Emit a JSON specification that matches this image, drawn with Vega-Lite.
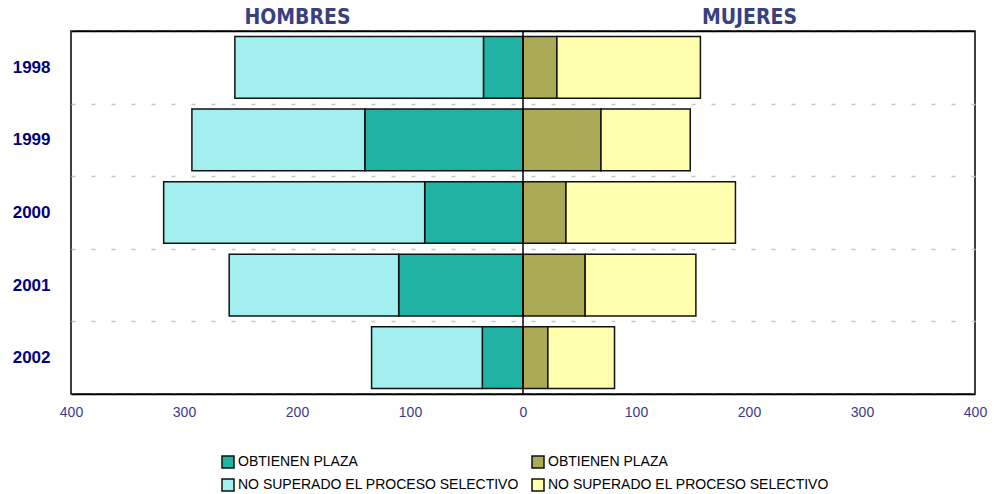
{
  "$schema": "https://vega.github.io/schema/vega-lite/v6.json",
  "width": 904,
  "height": 363,
  "autosize": {"type": "none"},
  "padding": {"left": 71, "top": 31, "right": 19, "bottom": 100},
  "background": "white",
  "config": {
    "view": {"stroke": "black", "strokeWidth": 1.5},
    "font": "Arial, Liberation Sans, sans-serif"
  },
  "layer": [
    {
      "data": {
        "values": [
          {"anio": "1998", "serie": "H_OBT", "orden": 1, "valor": -35},
          {"anio": "1998", "serie": "H_NO", "orden": 2, "valor": -220},
          {"anio": "1998", "serie": "M_OBT", "orden": 1, "valor": 30},
          {"anio": "1998", "serie": "M_NO", "orden": 2, "valor": 127},
          {"anio": "1999", "serie": "H_OBT", "orden": 1, "valor": -140},
          {"anio": "1999", "serie": "H_NO", "orden": 2, "valor": -153},
          {"anio": "1999", "serie": "M_OBT", "orden": 1, "valor": 69},
          {"anio": "1999", "serie": "M_NO", "orden": 2, "valor": 79},
          {"anio": "2000", "serie": "H_OBT", "orden": 1, "valor": -87},
          {"anio": "2000", "serie": "H_NO", "orden": 2, "valor": -231},
          {"anio": "2000", "serie": "M_OBT", "orden": 1, "valor": 38},
          {"anio": "2000", "serie": "M_NO", "orden": 2, "valor": 150},
          {"anio": "2001", "serie": "H_OBT", "orden": 1, "valor": -110},
          {"anio": "2001", "serie": "H_NO", "orden": 2, "valor": -150},
          {"anio": "2001", "serie": "M_OBT", "orden": 1, "valor": 55},
          {"anio": "2001", "serie": "M_NO", "orden": 2, "valor": 98},
          {"anio": "2002", "serie": "H_OBT", "orden": 1, "valor": -36},
          {"anio": "2002", "serie": "H_NO", "orden": 2, "valor": -98},
          {"anio": "2002", "serie": "M_OBT", "orden": 1, "valor": 22},
          {"anio": "2002", "serie": "M_NO", "orden": 2, "valor": 59}
        ]
      },
      "mark": {"type": "bar", "stroke": "#111111", "strokeWidth": 1.5, "height": {"band": 0.85}},
      "encoding": {
        "y": {
          "field": "anio",
          "type": "ordinal",
          "scale": {"paddingInner": 0, "paddingOuter": 0},
          "axis": {
            "title": null,
            "domain": false,
            "ticks": false,
            "tickBand": "extent",
            "grid": true,
            "gridColor": "#c8c8c8",
            "gridWidth": 1.5,
            "gridDash": [4, 16],
            "labelFontSize": 17,
            "labelFontWeight": "bold",
            "labelColor": "#000080",
            "labelPadding": 21
          }
        },
        "x": {
          "field": "valor",
          "type": "quantitative",
          "stack": "zero",
          "scale": {"domain": [-400, 400], "nice": false},
          "axis": {
            "title": null,
            "values": [-400, -300, -200, -100, 0, 100, 200, 300, 400],
            "labelExpr": "format(abs(datum.value), 'd')",
            "domain": true,
            "domainColor": "black",
            "domainWidth": 1.5,
            "zindex": 1,
            "ticks": false,
            "grid": false,
            "labelFlush": false,
            "labelOverlap": false,
            "labelFontSize": 14,
            "labelColor": "#3a3a8c",
            "labelPadding": 11
          }
        },
        "color": {
          "field": "serie",
          "type": "nominal",
          "scale": {
            "domain": ["H_OBT", "H_NO", "M_OBT", "M_NO"],
            "range": ["#20B2A2", "#A3EFEF", "#ABAA57", "#FFFFAD"]
          },
          "legend": {
            "title": null,
            "orient": "none",
            "legendX": 150,
            "legendY": 424,
            "columns": 2,
            "columnPadding": 10,
            "rowPadding": 5,
            "padding": 0,
            "symbolType": "square",
            "symbolSize": 144,
            "symbolStrokeColor": "#111111",
            "symbolStrokeWidth": 1.5,
            "symbolOpacity": 1,
            "labelFontSize": 14,
            "labelColor": "black",
            "labelLimit": 400,
            "labelOffset": 3,
            "labelExpr": "indexof(datum.value, 'OBT') >= 0 ? 'OBTIENEN PLAZA' : 'NO SUPERADO EL PROCESO SELECTIVO'"
          }
        },
        "order": {"field": "orden", "type": "quantitative"}
      }
    },
    {
      "data": {"values": [{"cero": 0}]},
      "mark": {"type": "rule", "color": "black", "strokeWidth": 1.5},
      "encoding": {
        "x": {
          "field": "cero",
          "type": "quantitative",
          "axis": {
            "orient": "top",
            "title": null,
            "values": [-200, 200],
            "labelExpr": "datum.value < 0 ? 'HOMBRES' : 'MUJERES'",
            "domain": true,
            "domainColor": "black",
            "domainWidth": 1.5,
            "zindex": 1,
            "ticks": false,
            "grid": false,
            "labelFlush": false,
            "labelFont": "DejaVu Sans Condensed, Liberation Sans Narrow, Arial Narrow, sans-serif",
            "labelFontSize": 21,
            "labelFontWeight": "bold",
            "labelColor": "#38407f",
            "labelPadding": 4
          }
        }
      }
    }
  ],
  "resolve": {"axis": {"x": "independent"}}
}
